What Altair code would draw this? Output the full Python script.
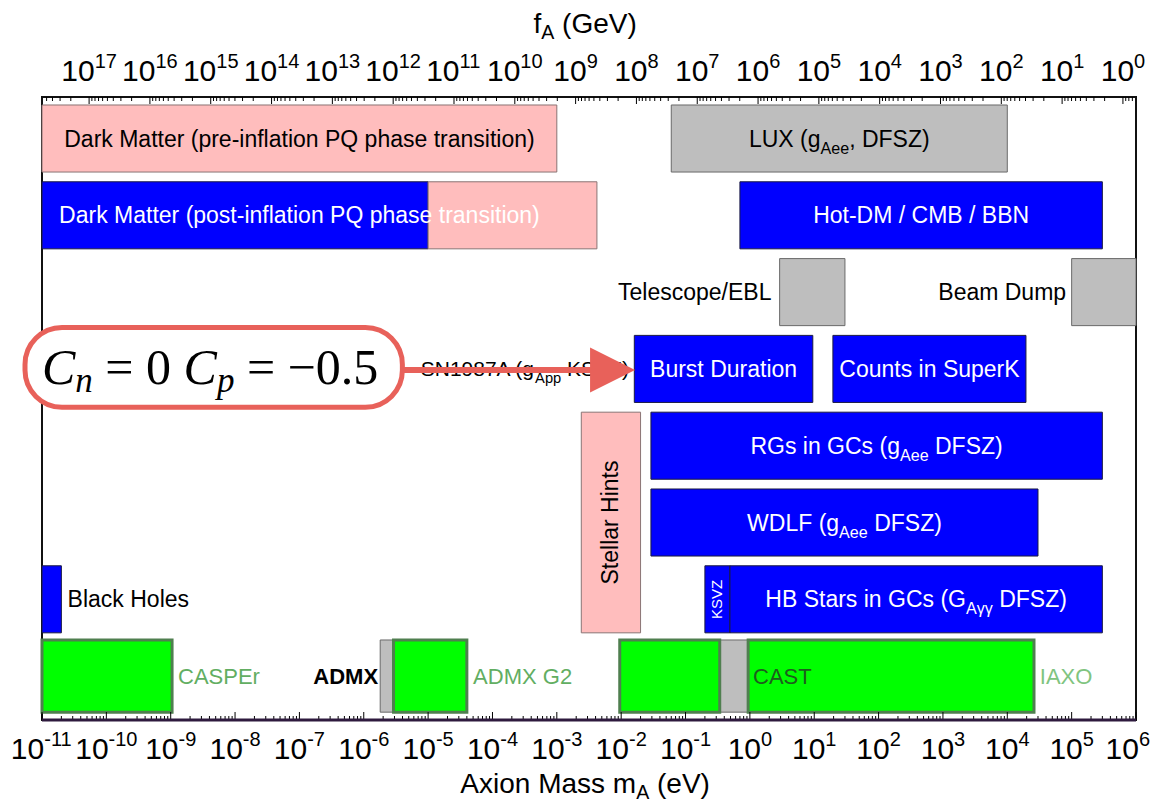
import math
import altair as alt
import pandas as pd

# ============================ data ============================
# every box: mass range in eV, first/last row (0 = top row), kind of constraint
bar_names = [
    "Dark Matter (pre-inflation PQ phase transition)", "LUX (gAee, DFSZ)",
    "Dark Matter post-inflation (blue)", "Dark Matter post-inflation (pink)",
    "Hot-DM / CMB / BBN", "Telescope/EBL", "Beam Dump", "Burst Duration",
    "Counts in SuperK", "Stellar Hints", "RGs in GCs", "WDLF", "KSVZ",
    "HB Stars in GCs", "Black Holes", "CASPEr", "ADMX", "ADMX G2",
    "CAST (low)", "CAST (gap)", "CAST (high)",
]
bar_lo = [1e-11, 0.06, 1e-11, 1e-5, 0.7, 2.9, 1e5, 0.016, 19.5, 2.4e-3, 0.029,
          0.029, 0.2, 0.49, 1e-11, 1e-11, 1.8e-6, 2.9e-6, 9.5e-3, 0.34, 0.94]
bar_hi = [1e-3, 1e4, 1e-5, 4.2e-3, 3e5, 30, 1e6, 9.5, 1.95e4, 0.02, 3e5,
          3e4, 0.49, 3e5, 2e-11, 1.05e-9, 2.9e-6, 4e-5, 0.34, 0.94, 2.6e4]
bar_row_first = [0, 0, 1, 1, 1, 2, 2, 3, 3, 4, 4, 5, 6, 6, 6, 7, 7, 7, 7, 7, 7]
bar_row_last = [0, 0, 1, 1, 1, 2, 2, 3, 3, 6, 4, 5, 6, 6, 6, 7, 7, 7, 7, 7, 7]
bar_kind = ["pink", "gray", "blue", "pink", "blue", "gray", "gray", "blue",
            "blue", "pink", "blue", "blue", "blue", "blue", "blue", "green",
            "gray", "green", "green", "gray", "green"]

# labels: pieces (text, is_subscript), anchor mass (eV), row, alignment
label_pieces = [
    [("Dark Matter (pre-inflation PQ phase transition)", 0)],
    [("LUX (g", 0), ("Aee", 1), (", DFSZ)", 0)],
    [("Dark Matter (post-inflation PQ phase transition)", 0)],
    [("Hot-DM / CMB / BBN", 0)],
    [("Telescope/EBL", 0)],
    [("Beam Dump", 0)],
    [("SN1987A (g", 0), ("App", 1), (" KSVZ)", 0)],
    [("Burst Duration", 0)],
    [("Counts in SuperK", 0)],
    [("RGs in GCs (g", 0), ("Aee", 1), (" DFSZ)", 0)],
    [("WDLF (g", 0), ("Aee", 1), (" DFSZ)", 0)],
    [("HB Stars in GCs (G", 0), ("Aγγ", 1), (" DFSZ)", 0)],
    [("Black Holes", 0)],
    [("CASPEr", 0)],
    [("ADMX", 0)],
    [("ADMX G2", 0)],
    [("CAST", 0)],
    [("IAXO", 0)],
]
label_anchor = [1e-7, 24.5, 1e-7, 458, 2.37, 8.2e4, 0.0132, 0.39, 617, 93,
                29.5, 383, 2.5e-11, 1.3e-9, 1.6e-6, 5e-5, 1.12, 3.2e4]
label_row = [0, 0, 1, 1, 2, 2, 3, 3, 3, 4, 5, 6, 6, 7, 7, 7, 7, 7]
label_align = ["center", "center", "center", "center", "right", "right", "right",
               "center", "center", "center", "center", "center", "left", "left",
               "right", "left", "left", "left"]

# vertical labels, written inside the box of the same name
vertical_labels = ["Stellar Hints", "KSVZ"]

# axes
mass_decades = list(range(-11, 7))          # bottom axis: m_A = 10^k eV
fa_decades = list(range(17, -1, -1))        # top axis: f_A = 10^k GeV
# where the top axis sits on the mass axis:
# log10(m / eV) = FA_A - FA_B * log10(f / GeV)
FA_A, FA_B = 5.797, 0.945

# annotation
ann_pieces = [("C", 0, 1), ("n", 1, 1), (" = 0 ", 0, 0), ("C", 0, 1), ("p", 1, 1), (" = −0.5", 0, 0)]
ann_box = (10 ** -11.264, 10 ** -5.40, 3.0, 4.04)      # x0, x1, y0, y1
ann_text_anchor = 10 ** -11.00
arrow_from, arrow_to, arrow_head = 10 ** -5.40, 10 ** -2.40, 10 ** -2.134
arrow_row = 3.555

# ============================ layout & style ============================
W, H = 1094, 623
ROW_PX = 76.8
Y_MAX = H / ROW_PX
PPD = W / 17.0                       # pixels per decade on the mass axis
FONT = "Liberation Sans"
SERIF = "Liberation Serif"
RED = "#E8615A"

kinds = ["pink", "gray", "blue", "green"]
fills = ["#FFBDBD", "#BEBEBE", "#0000FF", "#00FF00"]
strokes = ["#8a7474", "#6a6a6a", "#1a1a40", "#4f7f4f"]

label_tone = ["#000000", "#000000", "#FFFFFF", "#FFFFFF", "#000000", "#000000",
              "#000000", "#FFFFFF", "#FFFFFF", "#FFFFFF", "#FFFFFF", "#FFFFFF",
              "#000000", "#62AE62", "#000000", "#62AE62", "#1D5E1D", "#80C480"]
label_size = [23, 23, 23, 23, 23, 23, 21, 23, 23, 23, 23, 23, 23, 22, 22, 22, 22, 22]
label_bold = [False] * 14 + [True] + [False] * 3

HELV = {" ": 278, "(": 333, ")": 333, ",": 278, "-": 333, ".": 278, "/": 278,
        "A": 667, "B": 667, "C": 722, "D": 722, "E": 667, "F": 611, "G": 778,
        "H": 722, "I": 278, "J": 500, "K": 667, "L": 556, "M": 833, "N": 722,
        "O": 778, "P": 667, "Q": 778, "R": 722, "S": 667, "T": 611, "U": 722,
        "V": 667, "W": 944, "X": 667, "Y": 667, "Z": 611,
        "a": 556, "b": 556, "c": 500, "d": 556, "e": 556, "f": 278, "g": 556,
        "h": 556, "i": 222, "j": 222, "k": 500, "l": 222, "m": 833, "n": 556,
        "o": 556, "p": 556, "q": 556, "r": 333, "s": 500, "t": 278, "u": 556,
        "v": 500, "w": 722, "x": 500, "y": 500, "z": 500, "γ": 500}
TIMES = {"C": 667, "n": 500, "p": 500, " ": 250, "=": 564, "0": 500, "−": 564,
         ".": 250, "5": 500}


def text_w(s, size, table):
    return sum(table.get(ch, 556) for ch in s) / 1000.0 * size


def row_top(r):
    return 7.07 if r == 7 else r + 0.104


def row_bottom(r):
    return 8.01 if r == 7 else r + 0.977


def px_y(page_y):
    """page pixel row -> y data value (plot top is at page y = 97)"""
    return (page_y - 97) / ROW_PX


def pieces_to_records(pieces, anchor, y_base, align, size, color, table,
                      sub_ratio=0.7, sub_drop=0.30):
    sizes = [size * (sub_ratio if p[1] else 1) for p in pieces]
    widths = [text_w(p[0], fs, table) for p, fs in zip(pieces, sizes)]
    total = sum(widths)
    cur = {"left": 0.0, "center": -total / 2, "right": -total}[align]
    out = []
    for p, fs, w in zip(pieces, sizes, widths):
        t = p[0]
        lead = len(t) - len(t.lstrip(" "))
        off = cur + text_w(" " * lead, fs, table)
        out.append(dict(
            x=anchor * 10 ** (off / PPD),
            y=y_base + (sub_drop * size / ROW_PX if p[1] else 0.0),
            text=t.strip(" "), size=fs, color=color,
            italic=(p[2] if len(p) > 2 else 0),
        ))
        cur += w
    return out


def power_label(anchor, exponent, base_page_y, big=30, small=20, raise_px=13,
                max_right_px=1108):
    """'10' followed by a raised exponent, centred on the tick at `anchor`."""
    e = str(exponent)
    w10, we = text_w("10", big, HELV), text_w(e, small, HELV)
    tick_px = (math.log10(anchor) + 11) * PPD
    start = -(w10 + we) / 2
    start = min(start, max_right_px - tick_px - (w10 + we))
    return [
        dict(x=anchor * 10 ** (start / PPD), y=px_y(base_page_y), text="10",
             size=big, color="#000000", italic=0),
        dict(x=anchor * 10 ** ((start + w10) / PPD), y=px_y(base_page_y - raise_px),
             text=e, size=small, color="#000000", italic=0),
    ]


def fa_to_mass(f):
    return 10 ** (FA_A - FA_B * math.log10(f))


# ---- boxes
bars = pd.DataFrame(dict(
    name=bar_names, lo=bar_lo, hi=bar_hi, kind=bar_kind,
    y0=[row_top(r) for r in bar_row_first],
    y1=[row_bottom(r) for r in bar_row_last],
))

# ---- labels
recs_norm, recs_bold = [], []
for i, pcs in enumerate(label_pieces):
    r = label_row[i]
    mid = (row_top(r) + row_bottom(r)) / 2
    base = mid + 0.355 * label_size[i] / ROW_PX
    recs = pieces_to_records(pcs, label_anchor[i], base, label_align[i],
                             label_size[i], label_tone[i], HELV)
    (recs_bold if label_bold[i] else recs_norm).extend(recs)

# titles (through the same scales)
title_center = 10 ** -2.56
recs_norm += pieces_to_records([("Axion Mass m", 0), ("A", 1), (" (eV)", 0)],
                               title_center, px_y(793), "center", 28,
                               "#000000", HELV, sub_drop=0.22)
recs_norm += pieces_to_records([("f", 0), ("A", 1), (" (GeV)", 0)],
                               title_center, px_y(33), "center", 28,
                               "#000000", HELV, sub_drop=0.22)

# tick labels: bottom (mass) and top (f_A)
for k in mass_decades:
    recs_norm += power_label(10.0 ** k, k, 759)
for k in fa_decades:
    recs_norm += power_label(fa_to_mass(10.0 ** k), k, 81)

labels_norm = pd.DataFrame(recs_norm)
labels_bold = pd.DataFrame(recs_bold)

# vertical labels
vrecs = []
for name, fs in zip(vertical_labels, [23, 15]):
    j = bar_names.index(name)
    vrecs.append(dict(x=(bar_lo[j] * bar_hi[j]) ** 0.5,
                      y=(row_top(bar_row_first[j]) + row_bottom(bar_row_last[j])) / 2,
                      text=name, size=fs,
                      color="#000000" if bar_kind[j] == "pink" else "#FFFFFF"))
vlabels = pd.DataFrame(vrecs)

# annotation text
ann_recs = pieces_to_records(ann_pieces, ann_text_anchor, px_y(384), "left",
                             50, "#000000", TIMES, sub_drop=0.16)
ann_df = pd.DataFrame(ann_recs)
ann_it = ann_df[ann_df.italic == 1]
ann_rm = ann_df[ann_df.italic == 0]

# ticks
mass_major = [10.0 ** k for k in mass_decades]
mass_minor = [m * 10.0 ** k for k in mass_decades[:-1] for m in range(2, 10)]
top_major = [fa_to_mass(10.0 ** k) for k in fa_decades]
top_minor = [fa_to_mass(m * 10.0 ** k) for k in range(-1, 18) for m in range(2, 10)]
top_minor = [v for v in top_minor if 1e-11 <= v <= 1e6]

# ============================ chart ============================
x_mass = alt.Scale(type="log", domain=[1e-11, 1e6], nice=False)
y_sc = alt.Scale(domain=[0, Y_MAX], reverse=True, nice=False, zero=False)


def X(field):
    return alt.X(field, type="quantitative", scale=x_mass, axis=None)


def Y(field):
    return alt.Y(field, type="quantitative", scale=y_sc, axis=None)


fill_enc = alt.Fill("kind:N", scale=alt.Scale(domain=kinds, range=fills), legend=None)
stroke_enc = alt.Stroke("kind:N", scale=alt.Scale(domain=kinds, range=strokes), legend=None)

boxes_thin = alt.Chart(bars).transform_filter("datum.kind != 'green'").mark_rect(
    strokeWidth=1).encode(x=X("lo"), x2="hi", y=Y("y0"), y2="y1",
                          fill=fill_enc, stroke=stroke_enc)
boxes_green = alt.Chart(bars).transform_filter("datum.kind == 'green'").mark_rect(
    strokeWidth=3).encode(x=X("lo"), x2="hi", y=Y("y0"), y2="y1",
                          fill=fill_enc, stroke=stroke_enc)


def tick_rules(values, y_from, y_to):
    return alt.Chart(pd.DataFrame({"m": values})).mark_rule(
        color="#000000", strokeWidth=1).encode(
        x=X("m"), y=alt.value(y_from), y2=alt.value(y_to))


ticks = [tick_rules(mass_major, H, H - 8), tick_rules(mass_minor, H, H - 4),
         tick_rules(top_major, 0, 7), tick_rules(top_minor, 0, 4)]

# dark bottom edge of the frame
bottom_edge = alt.Chart(pd.DataFrame({"a": [1e-11], "b": [1e6]})).mark_rule(
    color="#2E1A3E", strokeWidth=3).encode(x=X("a"), x2="b", y=alt.value(H))


def text_layer(df, **kw):
    return alt.Chart(df).mark_text(align="left", baseline="alphabetic", **kw).encode(
        x=X("x"), y=Y("y"), text="text:N",
        size=alt.Size("size:Q", scale=None), color=alt.Color("color:N", scale=None))


t_norm = text_layer(labels_norm, font=FONT)
t_bold = text_layer(labels_bold, font=FONT, fontWeight="bold")
t_vert = alt.Chart(vlabels).mark_text(font=FONT, angle=270, align="center",
                                      baseline="middle").encode(
    x=X("x"), y=Y("y"), text="text:N",
    size=alt.Size("size:Q", scale=None), color=alt.Color("color:N", scale=None))

ann_rect = alt.Chart(pd.DataFrame([dict(x0=ann_box[0], x1=ann_box[1], y0=ann_box[2],
                                        y1=ann_box[3])])).mark_rect(
    fill="#FFFFFF", stroke=RED, strokeWidth=5, cornerRadius=37).encode(
    x=X("x0"), x2="x1", y=Y("y0"), y2="y1")
ann_it_l = text_layer(ann_it, font=SERIF, fontStyle="italic")
ann_rm_l = text_layer(ann_rm, font=SERIF)
arrow_shaft = alt.Chart(pd.DataFrame([dict(a=arrow_from, b=arrow_to, y=arrow_row)])).mark_rule(
    color=RED, strokeWidth=6).encode(x=X("a"), x2="b", y=Y("y"))
arrow_tip = alt.Chart(pd.DataFrame([dict(a=arrow_head, y=arrow_row)])).mark_point(
    shape="M-1,-1L1,0L-1,1Z", filled=True, size=2025, color=RED, opacity=1).encode(
    x=X("a"), y=Y("y"))

chart = alt.layer(
    boxes_thin, boxes_green, t_norm, t_bold, t_vert, *ticks, bottom_edge,
    ann_rect, ann_it_l, ann_rm_l, arrow_shaft, arrow_tip,
).properties(
    width=W, height=H,
    autosize=alt.AutoSizeParams(type="none"),
    padding={"left": 34, "top": 89, "right": 15, "bottom": 83},
).configure_view(stroke="#111111", strokeWidth=2)

chart.save("out.html", embed_options={"renderer": "svg", "actions": False})
